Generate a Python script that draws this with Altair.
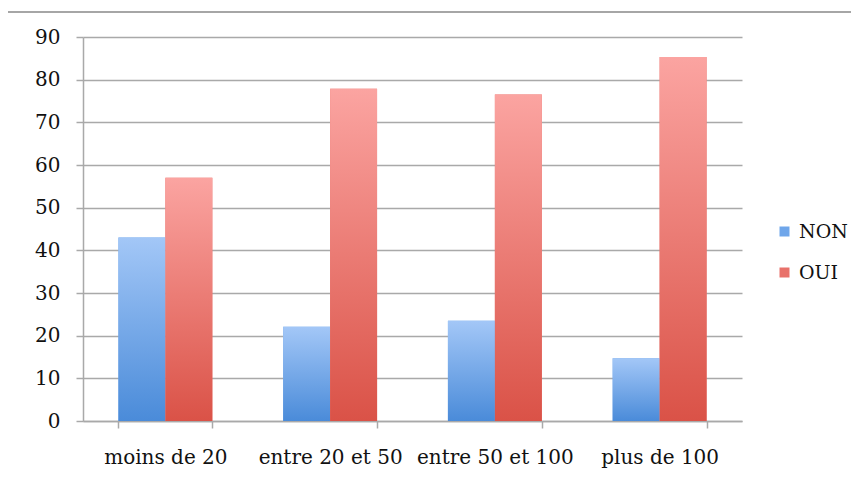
import altair as alt
import pandas as pd

categories = ["moins de 20", "entre 20 et 50", "entre 50 et 100", "plus de 100"]
series = ["NON", "OUI"]
non_values = [43.0, 22.1, 23.5, 14.7]
oui_values = [57.0, 77.9, 76.5, 85.3]
y_ticks = [0, 10, 20, 30, 40, 50, 60, 70, 80, 90]

rows = []
for c, n, o in zip(categories, non_values, oui_values):
    rows.append({"cat": c, "serie": "NON", "value": n})
    rows.append({"cat": c, "serie": "OUI", "value": o})
df = pd.DataFrame(rows)

FONT = "DejaVu Serif"
GRID = "#a9a9a9"
TXT = "#111111"

x_enc = alt.X(
    "cat:N", sort=categories, title=None,
    scale=alt.Scale(paddingInner=0.43, paddingOuter=0.215),
    axis=alt.Axis(labelAngle=0, labelFont=FONT, labelFontSize=20, labelColor=TXT,
                  labelPadding=19, tickSize=7, tickColor=GRID, tickWidth=1.5,
                  tickBand="extent", domainColor=GRID, domainWidth=1.5, grid=False),
)
y_enc = alt.Y(
    "value:Q", title=None,
    scale=alt.Scale(domain=[0, 90], nice=False),
    axis=alt.Axis(values=y_ticks, labelFont=FONT, labelFontSize=20, labelColor=TXT,
                  labelPadding=16, tickSize=7, tickColor=GRID, tickWidth=1.5,
                  domainColor=GRID, domainWidth=1.5, grid=True, gridColor=GRID, gridWidth=1.5),
)
xoff = alt.XOffset("serie:N", sort=series)

base = alt.Chart(df)

solid = base.mark_bar().encode(
    x=x_enc, y=y_enc, xOffset=xoff,
    color=alt.Color("serie:N", sort=series,
                    scale=alt.Scale(domain=series, range=["#6fa6ea", "#e8716a"]),
                    legend=alt.Legend(orient="none", legendX=692, legendY=185, title=None,
                                      symbolType="square", symbolSize=100, symbolStrokeWidth=0,
                                      labelFont=FONT, labelFontSize=19, labelColor=TXT,
                                      labelOffset=5, rowPadding=21)),
)

grad_blue = alt.Gradient(gradient="linear", x1=0, y1=0, x2=0, y2=1,
                         stops=[alt.GradientStop(color="#a3c7f7", offset=0),
                                alt.GradientStop(color="#4a8bd9", offset=1)])
grad_red = alt.Gradient(gradient="linear", x1=0, y1=0, x2=0, y2=1,
                        stops=[alt.GradientStop(color="#fba4a1", offset=0),
                               alt.GradientStop(color="#da5247", offset=1)])

non_layer = base.mark_bar(fill=grad_blue).encode(x=x_enc, y=y_enc, xOffset=xoff).transform_filter(
    alt.datum.serie == "NON")
oui_layer = base.mark_bar(fill=grad_red).encode(x=x_enc, y=y_enc, xOffset=xoff).transform_filter(
    alt.datum.serie == "OUI")

one = alt.Data(values=[{}])
border_top = alt.Chart(one).mark_rule(color="#a6a6a6", strokeWidth=2).encode(
    x=alt.value(-76), x2=alt.value(768), y=alt.value(-25))
border_left = alt.Chart(one).mark_rule(color="#a6a6a6", strokeWidth=2).encode(
    x=alt.value(-76), y=alt.value(-25), y2=alt.value(438))

chart = alt.layer(solid, non_layer, oui_layer, border_top, border_left).properties(
    width=659, height=384,
    background="white",
    autosize=alt.AutoSizeParams(type="none"),
    padding={"left": 75, "top": 29, "right": 109, "bottom": 54},
).configure_view(stroke=None)

chart.save("out.html", embed_options={"renderer": "svg", "actions": False})
